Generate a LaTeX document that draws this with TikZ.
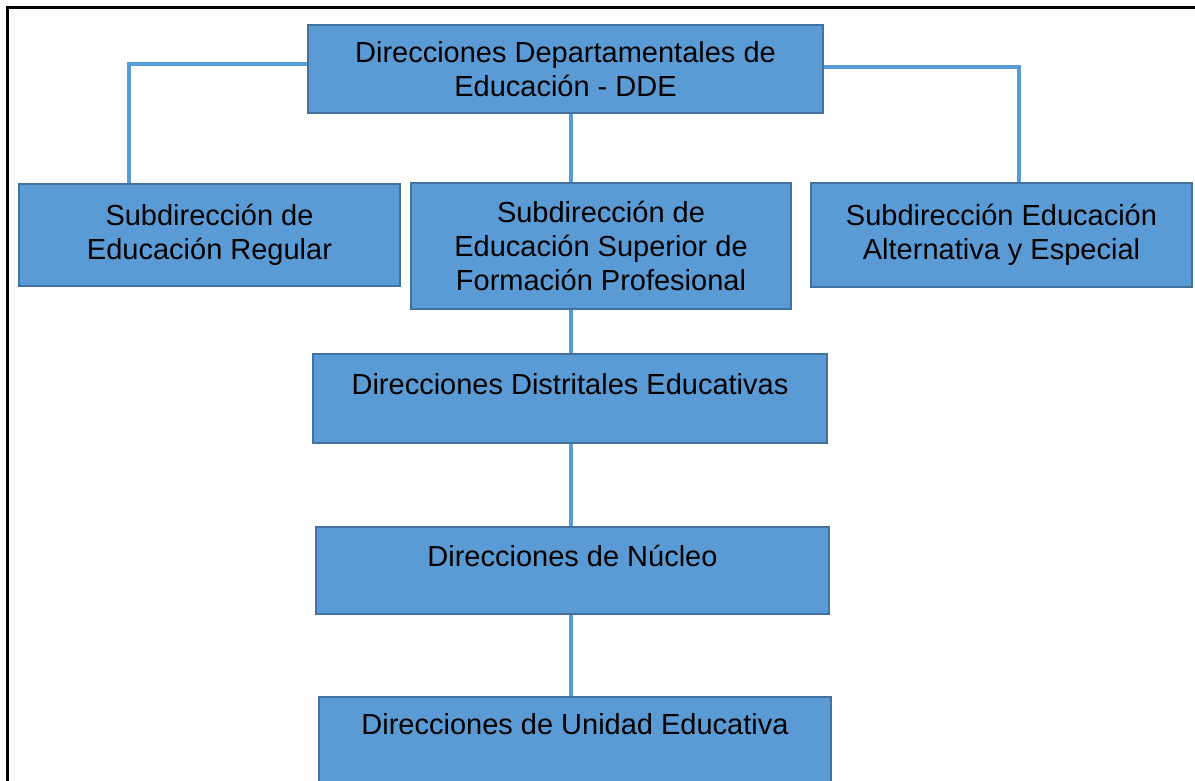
\documentclass[tikz,border=0pt]{standalone}
\usepackage{fontspec}
\setmainfont{Liberation Sans}
\definecolor{boxfill}{HTML}{5B9BD5}
\definecolor{boxline}{HTML}{41719C}
\definecolor{linkblue}{HTML}{5B9BD5}
\begin{document}
\begin{tikzpicture}[x=0.5pt,y=-0.5pt,
    unit/.style={draw=boxline,fill=boxfill,line width=1.4pt,inner sep=0pt,
        font=\fontsize{14.5pt}{17pt}\selectfont,align=center},
    upper/.style={text height=10pt,text depth=#1},
    link/.style={draw=linkblue,line width=2.4pt}]
            \useasboundingbox (0,0) rectangle (1195,781);
            \draw[line width=1.5pt] (7,781) |- (1195,8);
            \node[unit,minimum width=257.5pt,minimum height=44pt] at (565.5,69)(dde){Direcciones Departamentales de\\Educación - DDE};
            \node[unit,minimum width=190.5pt,minimum height=51pt] at (209.5,235)(regular){Subdirección de\\Educación Regular};
            \node[unit,minimum width=190pt,minimum height=63pt] at (601,246)(superior){Subdirección de\\Educación Superior de\\Formación Profesional};
            \node[unit,minimum width=190.5pt,minimum height=52pt] at (1001.5,235)(especial){Subdirección Educación\\Alternativa y Especial};
            \node[unit,upper=14pt,minimum width=257pt,minimum height=44.5pt] at (570,398.5)(distritales){Direcciones Distritales Educativas};
            \node[unit,upper=14pt,minimum width=256.5pt,minimum height=43.5pt] at (572.5,570.5)(nucleo){Direcciones de Núcleo};
            \node[unit,upper=17pt,minimum width=256pt,minimum height=44.5pt] at (575,741.5)(unidad){Direcciones de Unidad Educativa};
            \coordinate (lcorner) at (129,64);
            \coordinate (rcorner) at (1019,67);
            \coordinate (spine) at (571,0);
            \path[link] (dde.west |- lcorner) -- (lcorner) -- (lcorner |- regular.north);
            \path[link] (dde.east |- rcorner) -- (rcorner) -- (rcorner |- especial.north);
            \path[link] (dde.south -| spine) -- (superior.north -| spine);
            \path[link] (superior.south -| spine) -- (distritales.north -| spine);
            \path[link] (distritales.south -| spine) -- (nucleo.north -| spine);
            \path[link] (nucleo.south -| spine) -- (unidad.north -| spine);
        \end{tikzpicture}
\end{document}
